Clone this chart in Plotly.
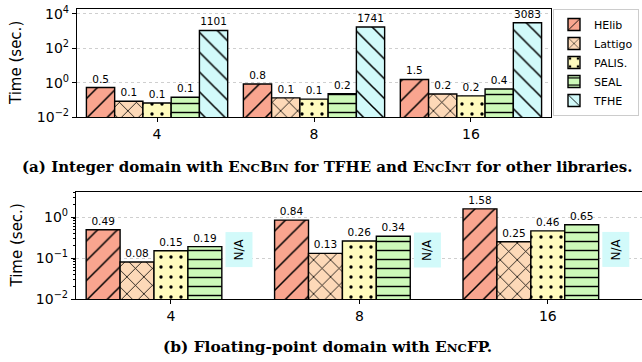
import plotly.graph_objects as go

# ---------------- data ----------------
categories = ["4", "8", "16"]
libraries = ["HElib", "Lattigo", "PALIS.", "SEAL", "TFHE"]

# (a) integer domain, time in seconds
int_helib = [0.52, 0.84, 1.54]
int_lattigo = [0.082, 0.13, 0.22]
int_palis = [0.065, 0.11, 0.17]
int_seal = [0.14, 0.23, 0.43]
int_tfhe = [1101, 1741, 3083]

# (b) floating-point domain, time in seconds (TFHE: N/A)
fp_helib = [0.49, 0.84, 1.58]
fp_lattigo = [0.08, 0.13, 0.25]
fp_palis = [0.15, 0.26, 0.46]
fp_seal = [0.19, 0.34, 0.65]
fp_tfhe = [None, None, None]

top_ticks = [0.01, 1, 100, 10000]
top_ticktext = ["10<sup>−2</sup>", "10<sup>0</sup>", "10<sup>2</sup>", "10<sup>4</sup>"]
bot_ticks = [0.01, 0.1, 1]
bot_ticktext = ["10<sup>−2</sup>", "10<sup>−1</sup>", "10<sup>0</sup>"]

# ---------------- styles ----------------
fills = ["#F9A58F", "#FDD9B8", "#FFFBBE", "#CDF9B9", "#D2FAFA"]
shapes = ["/", "x", ".", "-", "\\"]
sizes = [14, 12, 10, 9, 14]
solid = [0.11, 0.13, 0.09, 0.16, 0.11]

int_series = [int_helib, int_lattigo, int_palis, int_seal, int_tfhe]
fp_series = [fp_helib, fp_lattigo, fp_palis, fp_seal, fp_tfhe]

xs = list(range(len(categories)))

def fmt_int(v):
    return f"{v:.0f}" if v >= 100 else f"{v:.1f}"

fig = go.Figure()

def marker(i):
    return dict(color=fills[i], line=dict(color="black", width=1.4),
                pattern=dict(shape=shapes[i], fgcolor="black", bgcolor=fills[i],
                             size=sizes[i], solidity=solid[i], fillmode="replace"))

for i, (name, vals) in enumerate(zip(libraries, int_series)):
    fig.add_trace(go.Bar(
        x=xs, y=vals, name=name, xaxis="x", yaxis="y",
        text=[fmt_int(v) for v in vals], textposition="outside",
        textfont=dict(size=10.5, color="black", family="DejaVu Sans"),
        constraintext="none", cliponaxis=False,
        marker=marker(i), legendgroup=name, showlegend=True,
    ))

for i, (name, vals) in enumerate(zip(libraries, fp_series)):
    kw = {}
    if any(v is not None for v in vals):
        kw = dict(text=[f"{v:.2f}" for v in vals], textposition="outside",
                  textfont=dict(size=10.5, color="black", family="DejaVu Sans"),
                  constraintext="none")
    fig.add_trace(go.Bar(
        x=xs, y=vals, name=name, xaxis="x2", yaxis="y2", cliponaxis=False,
        marker=marker(i), legendgroup=name, showlegend=False, **kw,
    ))

W, H = 642, 362
def px(x):
    return x / W
def py(y):
    return 1 - y / H

axis_common = dict(showline=True, linecolor="black", linewidth=1.2, automargin=False,
                   ticks="outside", ticklen=4, tickcolor="black", tickwidth=1.2,
                   tickfont=dict(size=14, family="DejaVu Sans", color="black"))

annotations = []
# N/A boxes for TFHE in floating-point domain
for i in xs:
    annotations.append(dict(
        x=i + 0.36, y=-0.8, xref="x2", yref="y2", text="N/A", textangle=-90,
        showarrow=False, bgcolor="#D2FAFA", borderpad=6,
        font=dict(size=12, family="DejaVu Sans", color="black")))

# y-axis titles
for yc in (63, 245.5):
    annotations.append(dict(x=px(16), y=py(yc), xref="paper", yref="paper",
                            xanchor="center", yanchor="middle",
                            text="Time (sec.)", textangle=-90, showarrow=False,
                            font=dict(size=15, family="DejaVu Sans", color="black")))

sc = "<span style='font-size:11.8px'>"
cap_a = ("(a) Integer domain with E" + sc + "NC</span>B" + sc + "IN</span> for TFHE and "
         "E" + sc + "NC</span>I" + sc + "NT</span> for other libraries.")
cap_b = "(b) Floating-point domain with E" + sc + "NC</span>FP."
annotations.append(dict(x=px(328), y=py(167), xref="paper", yref="paper",
                        xanchor="center", yanchor="middle",
                        text="<b>" + cap_a + "</b>", showarrow=False,
                        font=dict(size=15, family="DejaVu Serif", color="black")))
annotations.append(dict(x=px(328), y=py(347), xref="paper", yref="paper",
                        xanchor="center", yanchor="middle",
                        text="<b>" + cap_b + "</b>", showarrow=False,
                        font=dict(size=15.4, family="DejaVu Serif", color="black")))

fig.update_layout(
    width=W, height=H, margin=dict(l=0, r=0, t=0, b=0, autoexpand=False),
    paper_bgcolor="white", plot_bgcolor="white",
    barmode="group", bargap=0.1, bargroupgap=0,
    font=dict(family="DejaVu Sans", color="black"),
    xaxis=dict(domain=[px(77), px(551)], range=[-0.51, 2.51], anchor="y",
               tickvals=xs, ticktext=categories, mirror=True, showgrid=False,
               **axis_common),
    yaxis=dict(domain=[py(117), py(9)], type="log", range=[-2, 4.29],
               tickvals=top_ticks, ticktext=top_ticktext, anchor="x", mirror=True,
               showgrid=True, gridcolor="#cfcfcf", griddash="dot", gridwidth=1,
               **axis_common),
    xaxis2=dict(domain=[px(76), 1.0], range=[-0.504, 2.5], anchor="y2",
                tickvals=xs, ticktext=categories, mirror=True, showgrid=False,
                **axis_common),
    yaxis2=dict(domain=[py(299), py(192)], type="log", range=[-2, 0.61],
                tickvals=bot_ticks, ticktext=bot_ticktext, anchor="x2",
                showgrid=True, gridcolor="#cfcfcf", griddash="dot", gridwidth=1,
                minor=dict(ticks="outside", ticklen=2, tickcolor="black", showgrid=False,
                           dtick="D1"),
                **axis_common),
    legend=dict(x=px(553), y=py(9), xanchor="left", yanchor="top",
                bgcolor="white", bordercolor="#cccccc", borderwidth=1,
                font=dict(size=11, family="DejaVu Sans", color="black"),
                tracegroupgap=0),
    annotations=annotations,
)

fig.write_html("out.html", config={"displayModeBar": False},
               post_script="document.body.style.margin='0';")
